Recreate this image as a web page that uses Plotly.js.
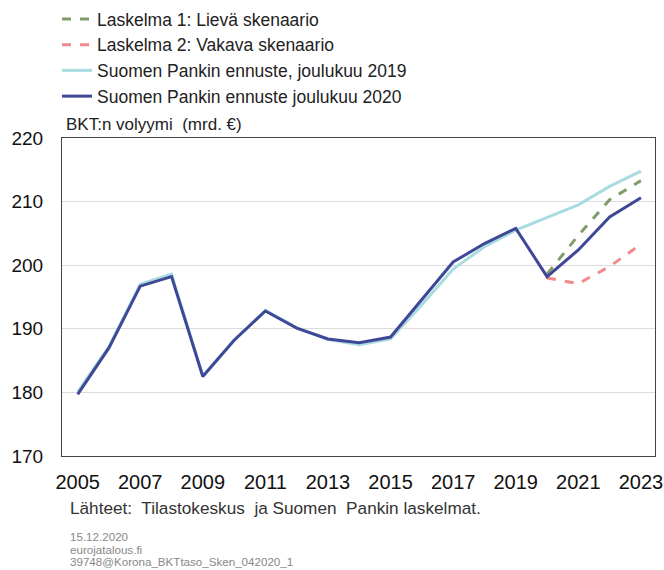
<!DOCTYPE html>
<html>
<head>
<meta charset="utf-8">
<script src="https://cdn.plot.ly/plotly-3.0.1.min.js"></script>
<style>
  html, body { margin: 0; padding: 0; background: #fff; }
  #plot { width: 664px; height: 570px; }
</style>
</head>
<body>
<div id="plot"></div>
<script>
// Vuodet ja sarjat (luettu kuvasta)
const years = [2005, 2006, 2007, 2008, 2009, 2010, 2011, 2012, 2013, 2014,
               2015, 2016, 2017, 2018, 2019, 2020, 2021, 2022, 2023];
const ennuste2020 = [179.7, 187.0, 196.7, 198.2, 182.5, 188.2, 192.8, 190.1, 188.4, 187.8,
                     188.7, 194.6, 200.5, 203.4, 205.8, 198.2, 202.4, 207.6, 210.6];
const ennuste2019 = [180.1, 187.2, 197.0, 198.6, 182.6, 188.2, 192.9, 190.2, 188.3, 187.5,
                     188.4, 193.8, 199.4, 202.9, 205.5, 207.5, 209.5, 212.4, 214.8];
const skenYears = [2020, 2021, 2022, 2023];
const lieva = [198.6, 204.7, 210.3, 213.3];
const vakava = [198.0, 197.1, 199.8, 203.3];

const yTicks = [170, 180, 190, 200, 210, 220];
const xTicks = [2005, 2007, 2009, 2011, 2013, 2015, 2017, 2019, 2021, 2023];

const FONT = 'Liberation Sans, Arial, sans-serif';

// plot area: 62..655 px wide, 138..456 px high
const PW = 593, PH = 318, PL = 62, PB = 456;
const px = x => (x - PL) / PW;
const py = y => (PB - y) / PH;

const traces = [
  {
    x: skenYears, y: lieva, mode: 'lines',
    name: 'Laskelma 1: Lievä skenaario',
    line: { color: '#7f9d6b', width: 3, dash: 'dash' }
  },
  {
    x: skenYears, y: vakava, mode: 'lines',
    name: 'Laskelma 2: Vakava skenaario',
    line: { color: '#f08a8c', width: 3, dash: 'dash' }
  },
  {
    x: years, y: ennuste2019, mode: 'lines',
    name: 'Suomen Pankin ennuste, joulukuu 2019',
    line: { color: '#a9dce0', width: 3 }
  },
  {
    x: years, y: ennuste2020, mode: 'lines',
    name: 'Suomen Pankin ennuste joulukuu 2020',
    line: { color: '#3f4897', width: 3 }
  }
];

const footNote = (text, xpx, ypx, size, color) => ({
  text: text, xref: 'paper', yref: 'paper', x: px(xpx), y: py(ypx),
  xanchor: 'left', yanchor: 'middle', showarrow: false,
  font: { size: size, color: color }
});

const layout = {
  width: 664,
  height: 570,
  paper_bgcolor: '#ffffff',
  plot_bgcolor: '#ffffff',
  font: { family: FONT, color: '#222' },
  margin: { l: 62, r: 9, t: 138, b: 114, autoexpand: false },
  showlegend: true,
  legend: {
    xref: 'container', yref: 'container',
    x: 57 / 664, y: 1 - 1 / 570,
    xanchor: 'left', yanchor: 'top',
    font: { size: 17.5, color: '#222' },
    bgcolor: 'rgba(0,0,0,0)'
  },
  xaxis: {
    range: [2004.5, 2023.45],
    tickvals: xTicks,
    ticktext: xTicks.map(String),
    tickfont: { size: 20, color: '#111' },
    tickangle: 0,
    ticks: '',
    ticklabelstandoff: 8,
    showgrid: false,
    zeroline: false,
    showline: true, mirror: true,
    linecolor: '#444', linewidth: 1
  },
  yaxis: {
    range: [170, 220],
    tickvals: yTicks,
    ticktext: yTicks.map(String),
    tickfont: { size: 19, color: '#111' },
    ticks: '',
    ticklabelstandoff: 14,
    showgrid: true,
    gridcolor: '#dcdcdc',
    gridwidth: 1,
    zeroline: false,
    showline: true, mirror: true,
    linecolor: '#444', linewidth: 1
  },
  annotations: [
    footNote('BKT:n volyymi  (mrd. €)', 64, 125, 17, '#222'),
    footNote('Lähteet:  Tilastokeskus  ja Suomen  Pankin laskelmat.', 68, 508, 17.2, '#333'),
    footNote('15.12.2020', 68, 536, 11.6, '#888'),
    footNote('eurojatalous.fi', 68, 549, 11.6, '#888'),
    footNote('39748@Korona_BKTtaso_Sken_042020_1', 68, 561, 11.6, '#888')
  ]
};

Plotly.newPlot('plot', traces, layout, { displayModeBar: false, staticPlot: true });
</script>
</body>
</html>
